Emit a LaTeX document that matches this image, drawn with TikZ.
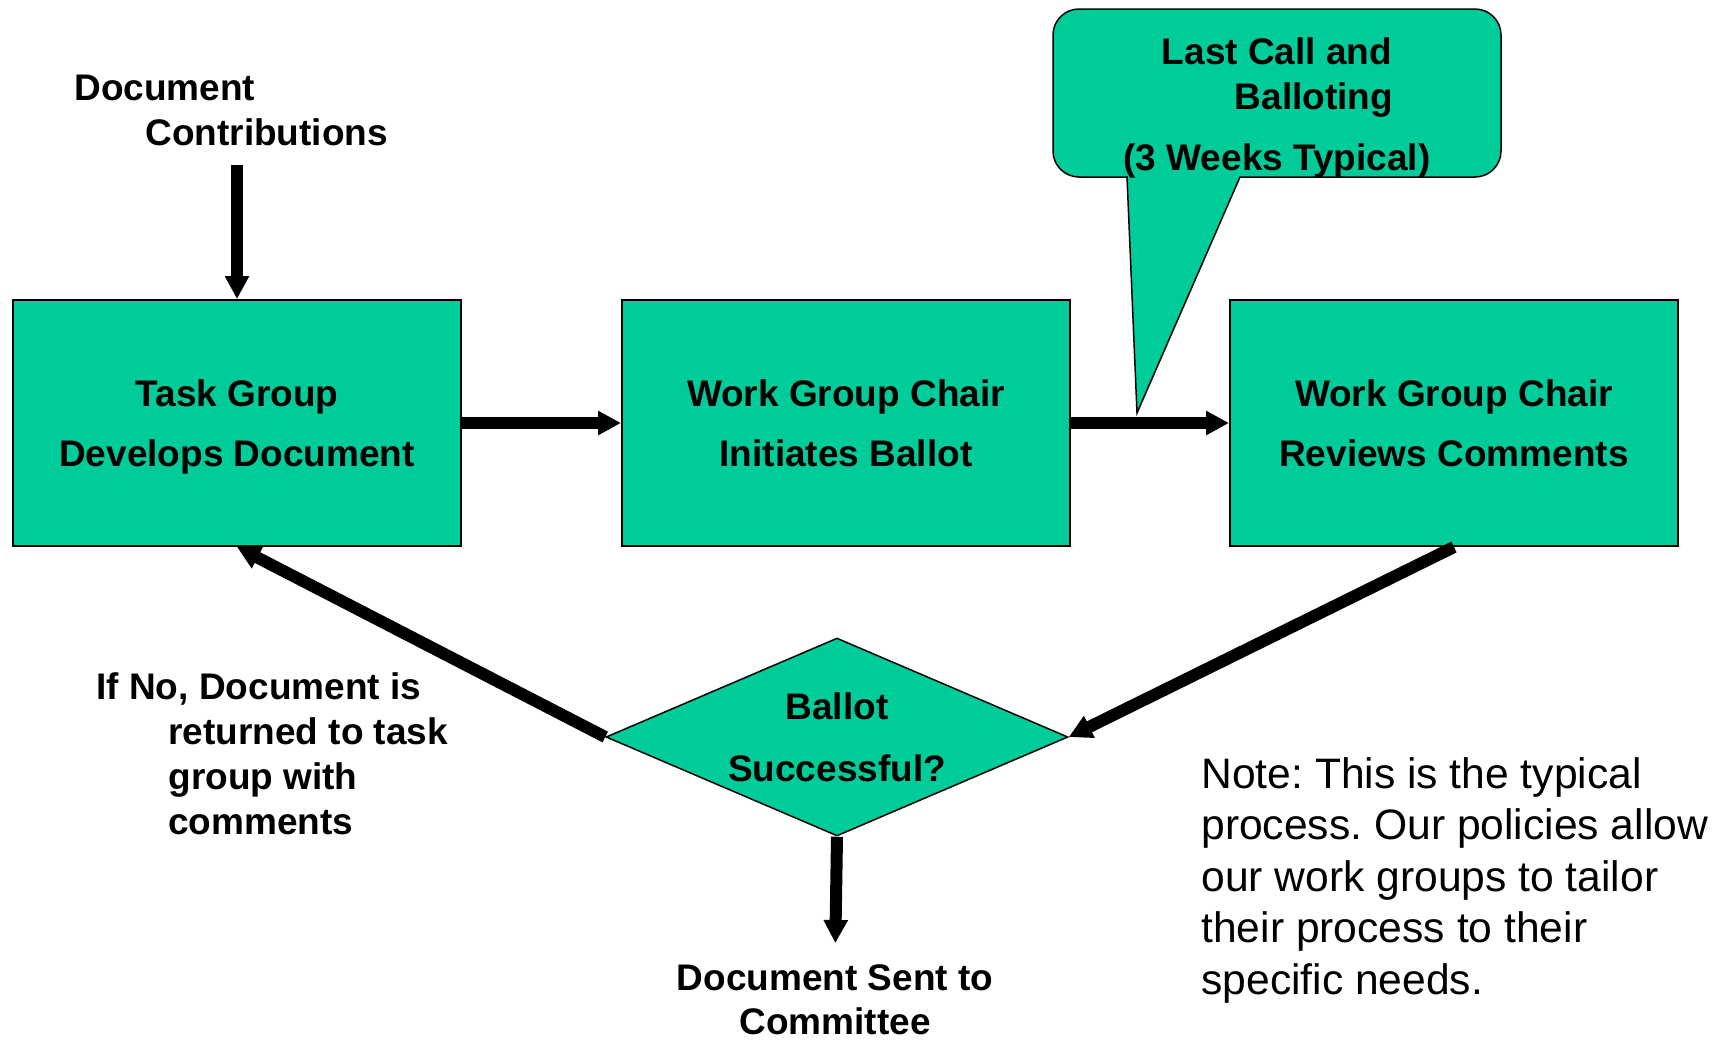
\documentclass[tikz,border=0pt]{standalone}
\usepackage{fontspec}
\setmainfont{Liberation Sans}
\frenchspacing
\usetikzlibrary{arrows.meta,positioning,shapes.geometric}
\definecolor{ballotgreen}{RGB}{0,204,153}
\tikzset{
    >={Triangle[width=11.5pt,length=11.5pt]},
    font=\bfseries\fontsize{18.5}{30}\selectfont,
    process box/.style={rectangle,draw,line width=1pt,fill=ballotgreen,align=center,
        minimum width=224pt,minimum height=123pt,inner sep=0pt},
    decision box/.style={diamond,draw,line width=0.75pt,fill=ballotgreen,align=center,
        aspect=2.33,minimum width=231pt,minimum height=99pt,inner sep=0pt,
        font=\bfseries\fontsize{18.5}{31}\selectfont},
    callout box/.style={draw,line width=0.75pt,fill=ballotgreen},
    free text/.style={align=left,inner sep=0pt,font=\bfseries\fontsize{18.5}{22.5}\selectfont},
    note text/.style={align=left,inner sep=0pt,font=\mdseries\fontsize{21.3}{25.75}\selectfont},
    flow/.style={->,line width=6pt}
}
\begin{document}
\begin{tikzpicture}[x=0.5pt,y=-0.5pt]
    \path[fill=white,use as bounding box] (0,0) rectangle (1713,1040);
    \node[process box] (taskgroup) at (237,423) {Task Group\\\raisebox{0pt}[\height][0pt]{Develops Document}};
    \node[process box] (initiate) [right=79.5pt of taskgroup] {Work Group Chair\\Initiates Ballot};
    \node[process box] (reviews) [right=79pt of initiate] {Work Group Chair\\Reviews Comments};
    \node[decision box] (ballot) at (837,737) {Ballot\\Successful?};
    % speech bubble over the ballot step
    \draw[callout box] (1127,177) [rounded corners=13pt] -- (1053,177) -- (1053,9) -- (1501,9)
        -- (1501,177) -- (1300,177) [sharp corners] -- (1240,177) -- (1137,413) -- cycle;
    \node[free text, align=center, anchor=north] (lastcall) at (1277,37)
        {Last Call and\\\hspace*{37pt}Balloting\\[8pt](3 Weeks Typical)};
    \node[free text, anchor=north west] (contrib) at (74,75) {Document\\\hspace*{35.5pt}Contributions};
    \node[free text, anchor=north west] (ifno) at (96,672)
        {If No, Document is\\\hspace*{36pt}returned to task\\\hspace*{36pt}group with\\\hspace*{36pt}comments};
    \node[free text, align=center, anchor=north, font=\bfseries\fontsize{18.5}{22}\selectfont] (sent) at (835,964)
        {Document Sent to\\Committee};
    \node[note text, anchor=north west] (note) at (1201,757)
        {Note: This is the typical\\process. Our policies allow\\our work groups to tailor\\their process to their\\specific needs.};
    \path
        (contrib.south -| taskgroup.north) edge [flow, shorten <=9.25pt] (taskgroup.north)
        (taskgroup) edge [flow] (initiate)
        (initiate) edge [flow] (reviews)
        (reviews.south) edge [flow] (ballot.east)
        (ballot.west) edge [flow] (taskgroup.south)
        (ballot.south) edge [flow, shorten >=10.5pt] (sent.north)
        ;
\end{tikzpicture}
\end{document}
